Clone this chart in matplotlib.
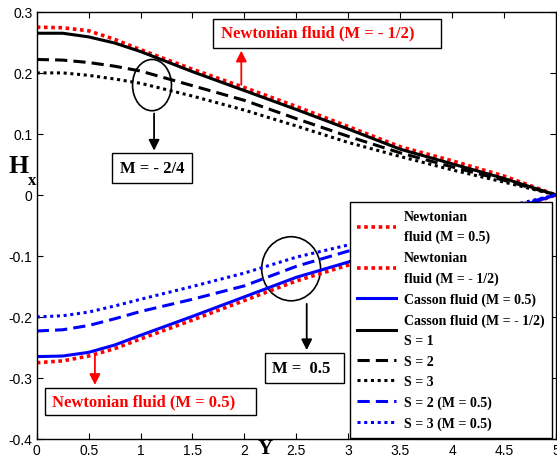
import numpy as np
import matplotlib
matplotlib.use("Agg")
import matplotlib.pyplot as plt
from matplotlib.patches import Ellipse, Rectangle

# --- Data ---
y_pos = [0, 0.25, 0.5, 0.75, 1.0, 1.5, 2.0, 2.5, 3.0, 3.5, 4.0, 4.5, 5.0]

# M = -1/2 branch (upper curves)
newt_neg = [0.275, 0.274, 0.269, 0.255, 0.238, 0.206, 0.176, 0.145, 0.112, 0.079, 0.056, 0.031, 0.0]
casson_neg_s1 = [0.265, 0.265, 0.259, 0.249, 0.235, 0.202, 0.171, 0.140, 0.108, 0.075, 0.051, 0.027, 0.0]
casson_neg_s2 = [0.222, 0.221, 0.217, 0.211, 0.203, 0.179, 0.155, 0.125, 0.096, 0.069, 0.046, 0.024, 0.0]
casson_neg_s3 = [0.200, 0.200, 0.196, 0.190, 0.183, 0.162, 0.139, 0.113, 0.086, 0.063, 0.041, 0.021, 0.0]

# M = 0.5 branch (lower curves)
newt_pos = [-0.275, -0.272, -0.264, -0.252, -0.236, -0.205, -0.173, -0.141, -0.115, -0.085, -0.057, -0.030, 0.0]
casson_pos_s1 = [-0.265, -0.264, -0.258, -0.246, -0.230, -0.199, -0.167, -0.135, -0.110, -0.082, -0.054, -0.027, 0.0]
casson_pos_s2 = [-0.223, -0.221, -0.214, -0.203, -0.191, -0.171, -0.149, -0.117, -0.092, -0.069, -0.046, -0.023, 0.0]
casson_pos_s3 = [-0.200, -0.198, -0.192, -0.182, -0.171, -0.150, -0.128, -0.102, -0.082, -0.062, -0.041, -0.020, 0.0]

x_ticks = [0, 0.5, 1, 1.5, 2, 2.5, 3, 3.5, 4, 4.5, 5]
y_ticks = [-0.4, -0.3, -0.2, -0.1, 0, 0.1, 0.2, 0.3]

SERIF = "Liberation Serif"
plt.rcParams["font.family"] = "Liberation Sans"

fig = plt.figure(figsize=(5.57, 4.60), dpi=100)
ax = fig.add_axes([0.066, 0.0435, 0.932, 0.9285])

lw = 2.2
l1, = ax.plot(y_pos, newt_pos, color="red", ls=(0, (1, 1)), lw=2.6)
l2, = ax.plot(y_pos, newt_neg, color="red", ls=(0, (1, 1)), lw=2.6)
l3, = ax.plot(y_pos, casson_pos_s1, color="blue", ls="-", lw=lw)
l4, = ax.plot(y_pos, casson_neg_s1, color="black", ls="-", lw=lw)
l5, = ax.plot(y_pos, casson_neg_s2, color="black", ls=(0, (4, 2)), lw=lw)
l6, = ax.plot(y_pos, casson_neg_s3, color="black", ls=(0, (1, 1.2)), lw=lw)
l7, = ax.plot(y_pos, casson_pos_s2, color="blue", ls=(0, (4, 2)), lw=lw)
l8, = ax.plot(y_pos, casson_pos_s3, color="blue", ls=(0, (1, 1.2)), lw=lw)

ax.set_xlim(0, 5)
ax.set_ylim(-0.4, 0.3)
ax.set_xticks(x_ticks)
ax.set_xticklabels(["0", "0.5", "1", "1.5", "2", "2.5", "3", "3.5", "4", "4.5", "5"])
ax.set_yticks(y_ticks)
ax.set_yticklabels(["-0.4", "-0.3", "-0.2", "-0.1", "0", "0.1", "0.2", "0.3"])
ax.tick_params(direction="in", top=True, right=True, length=4, labelsize=10, pad=3)
for s in ax.spines.values():
    s.set_linewidth(1.0)

# axis labels
fig.text(0.016, 0.624, "H", fontsize=18.5, fontweight="bold", family=SERIF)
fig.text(0.050, 0.598, "x", fontsize=12, fontweight="bold", family=SERIF)
fig.text(0.462, 0.012, "Y", fontsize=15, fontweight="bold", family=SERIF)

legend_labels = [
    "Newtonian\nfluid (M = 0.5)",
    "Newtonian\nfluid (M = - 1/2)",
    "Casson fluid (M = 0.5)",
    "Casson fluid (M = - 1/2)\nS = 1",
    "S = 2",
    "S = 3",
    "S = 2 (M = 0.5)",
    "S = 3 (M = 0.5)",
]
leg = ax.legend([l1, l2, l3, l4, l5, l6, l7, l8], legend_labels,
                loc="upper left", bbox_to_anchor=(0.603, 0.555), borderaxespad=0,
                prop={"family": SERIF, "weight": "bold", "size": 10},
                handlelength=2.8, handletextpad=0.55, labelspacing=0.55,
                fancybox=False, framealpha=1, edgecolor="black",
                borderpad=0.55)
for t in leg.get_texts():
    t.set_linespacing(1.7)
leg.get_frame().set_linewidth(1.0)
leg.set_zorder(10)


def boxed_text(x0, x1, y0, y1, tx, ty, s, color, ha):
    ax.add_patch(Rectangle((x0, y0), x1 - x0, y1 - y0, fc="white", ec="black",
                           lw=1, zorder=4))
    ax.text(tx, ty, s, ha=ha, va="center", fontsize=12, fontweight="bold",
            family=SERIF, color=color, zorder=5)


# annotations: M = -1/2 group
ax.add_patch(Ellipse((1.11, 0.180), 0.375, 0.084, fill=False, ec="black", lw=1.2))
ax.annotate("", xy=(1.13, 0.068), xytext=(1.13, 0.138),
            arrowprops=dict(arrowstyle="-|>", color="black", lw=1.3, mutation_scale=16))
boxed_text(0.721, 1.50, 0.0197, 0.0689, 1.11, 0.044, "M = - 2/4", "black", "center")

ax.annotate("", xy=(1.97, 0.241), xytext=(1.97, 0.176),
            arrowprops=dict(arrowstyle="-|>", color="red", lw=1.3, mutation_scale=16))
boxed_text(1.702, 3.894, 0.241, 0.2885, 1.77, 0.266, "Newtonian fluid (M = - 1/2)", "red", "left")

# annotations: M = 0.5 group
ax.add_patch(Ellipse((2.45, -0.121), 0.567, 0.105, fill=False, ec="black", lw=1.2))
ax.annotate("", xy=(2.6, -0.259), xytext=(2.6, -0.174),
            arrowprops=dict(arrowstyle="-|>", color="black", lw=1.3, mutation_scale=16))
boxed_text(2.202, 2.962, -0.308, -0.259, 2.27, -0.284, "M =  0.5", "black", "left")

ax.annotate("", xy=(0.56, -0.316), xytext=(0.56, -0.259),
            arrowprops=dict(arrowstyle="-|>", color="red", lw=1.3, mutation_scale=16))
boxed_text(0.077, 2.115, -0.361, -0.316, 0.144, -0.339, "Newtonian fluid (M = 0.5)", "red", "left")

fig.savefig("out.png", dpi=100)
